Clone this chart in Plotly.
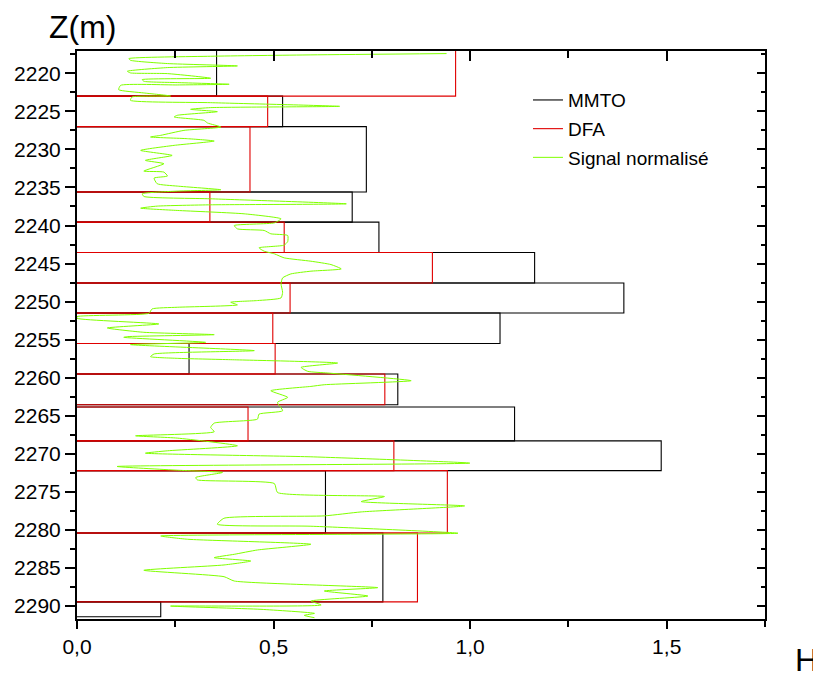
import plotly.graph_objects as go

# Segment boundaries (depth, m)
seg_top = [2217.0, 2223.0, 2227.0, 2235.6, 2239.55, 2243.55, 2247.55, 2251.5,
           2255.5, 2259.5, 2263.85, 2268.3, 2272.2, 2280.4, 2289.45]
seg_bot = [2223.0, 2227.0, 2235.6, 2239.55, 2243.55, 2247.55, 2251.5, 2255.5,
           2259.5, 2263.55, 2268.3, 2272.2, 2280.4, 2289.45, 2291.4]

# Hurst exponent per segment
mmto_h = [0.355, 0.523, 0.736, 0.700, 0.768, 1.164, 1.391, 1.076,
          0.285, 0.816, 1.113, 1.486, 0.632, 0.778, 0.213]
dfa_h = [0.963, 0.485, 0.440, 0.338, 0.527, 0.904, 0.542, 0.498,
         0.504, 0.783, 0.435, 0.806, 0.942, 0.866, None]

# Normalised signal (value, depth)
sig_val = [0.940, 0.595, 0.340, 0.132, 0.136, 0.230, 0.408, 0.230, 0.128, 0.136,
           0.230, 0.340, 0.166, 0.170, 0.255, 0.387, 0.255, 0.111, 0.106, 0.170,
           0.238, 0.140, 0.136, 0.340, 0.668, 0.340, 0.289, 0.357, 0.255, 0.247,
           0.323, 0.332, 0.366, 0.272, 0.213, 0.187, 0.281, 0.349, 0.247,
           0.162, 0.242, 0.174, 0.221, 0.170, 0.221, 0.230, 0.196, 0.204, 0.255,
           0.366, 0.255, 0.166, 0.170, 0.340, 0.685, 0.340, 0.204, 0.162, 0.255,
           0.425, 0.519, 0.502, 0.400, 0.408, 0.476, 0.493, 0.536, 0.536,
           0.527, 0.463, 0.476, 0.502, 0.527, 0.595, 0.646, 0.672, 0.595, 0.544,
           0.523, 0.519, 0.523, 0.519, 0.459, 0.391, 0.408, 0.255, 0.191, 0.183,
           0.0, 0.0, 0.208, 0.077, 0.170, 0.349, 0.128,
           0.119, 0.327, 0.136, 0.451, 0.196, 0.187, 0.255, 0.391, 0.663, 0.570,
           0.587, 0.638, 0.850, 0.629, 0.595, 0.493, 0.536, 0.510, 0.523, 0.463,
           0.459, 0.349, 0.340, 0.349,
           0.149, 0.255, 0.408, 0.230, 0.174, 0.595, 0.999, 0.102, 0.255, 0.370,
           0.302, 0.306, 0.502, 0.510, 0.782, 0.723, 0.986, 0.723, 0.629, 0.374,
           0.357, 0.595,
           0.969, 0.213, 0.281, 0.595, 0.459, 0.400, 0.349, 0.442, 0.374, 0.170,
           0.374, 0.400, 0.765, 0.629, 0.740, 0.595, 0.621, 0.238, 0.468, 0.604,
           0.578, 0.604]
sig_depth = [2217.41, 2217.58, 2217.76, 2218.07, 2218.29, 2218.72, 2219.03, 2219.25, 2219.73, 2219.95,
             2220.04, 2220.65, 2220.83, 2221.05, 2221.22, 2221.44, 2221.53, 2221.58, 2222.15, 2222.58,
             2222.98, 2223.11, 2223.55, 2223.86, 2224.34, 2224.51, 2224.73, 2225.04, 2225.52, 2225.74,
             2226.18, 2226.53, 2227.06, 2227.50, 2228.15, 2228.37, 2228.59, 2228.90, 2229.47,
             2230.13, 2230.79, 2231.44, 2231.88, 2232.85, 2232.98, 2233.50, 2233.77, 2234.51, 2234.82,
             2235.30, 2235.48, 2235.83, 2236.18, 2236.49, 2237.15, 2237.28, 2237.45, 2237.72, 2238.02,
             2238.46, 2239.12, 2239.65, 2240.00, 2240.44, 2240.65, 2241.09, 2241.31, 2242.10,
             2242.58, 2242.93, 2243.37, 2243.72, 2244.25, 2244.69, 2245.13, 2245.70, 2246.00, 2246.36,
             2246.88, 2247.67, 2248.77, 2249.51, 2249.86, 2250.08, 2250.43, 2250.74, 2250.96, 2251.53,
             2251.97, 2252.19, 2252.93, 2253.46, 2254.03, 2254.34, 2254.60,
             2254.69, 2255.35, 2255.65, 2256.44, 2256.88, 2257.23, 2257.45, 2257.63, 2258.07, 2258.64,
             2259.16, 2259.38, 2260.39, 2260.92, 2261.14, 2261.71, 2262.58, 2263.24, 2264.34, 2264.78,
             2265.44, 2265.96, 2266.53, 2267.10,
             2267.63, 2267.93, 2268.94, 2269.60, 2269.91, 2270.39, 2271.22, 2271.66, 2272.15, 2272.45,
             2273.11, 2273.42, 2273.90, 2275.08, 2275.61, 2276.27, 2276.84, 2277.63, 2278.15, 2278.46,
             2279.25, 2279.51,
             2280.43, 2280.79, 2281.22, 2281.88, 2282.63, 2283.20, 2283.64, 2284.08, 2284.60, 2285.30,
             2286.14, 2286.71, 2287.58, 2288.02, 2288.68, 2289.34, 2289.86, 2290.00, 2290.43, 2290.96,
             2291.22, 2291.53]

x_ticks = [0.0, 0.5, 1.0, 1.5]
y_ticks = list(range(2220, 2291, 5))

FONT = "Arial, Liberation Sans, sans-serif"


def boxes(values):
    xs, ys = [], []
    for h, z1, z2 in zip(values, seg_top, seg_bot):
        if h is None:
            continue
        xs += [0, h, h, 0, None]
        ys += [z1, z1, z2, z2, None]
    return xs, ys


fig = go.Figure()
mx, my = boxes(mmto_h)
fig.add_trace(go.Scatter(x=mx, y=my, mode="lines", name="MMTO",
                         line=dict(color="#000000", width=1.1),
                         legendgroup="a"))
dx, dy = boxes(dfa_h)
fig.add_trace(go.Scatter(x=dx, y=dy, mode="lines", name="DFA",
                         line=dict(color="#E00000", width=1.1),
                         legendgroup="b"))
fig.add_trace(go.Scatter(x=sig_val, y=sig_depth, mode="lines",
                         name="Signal normalisé",
                         line=dict(color="rgb(128,255,0)", width=1, shape="spline", smoothing=0.5),
                         legendgroup="c"))
fig.add_trace(go.Scatter(x=[], y=[], xaxis="x2", yaxis="y2", showlegend=False,
                         hoverinfo="skip"))

xr = [0, 1.75]
yr = [2291.7, 2217.07]

fig.update_layout(
    width=813, height=670,
    margin=dict(l=69, r=56, t=43, b=59),
    template="none",
    paper_bgcolor="white", plot_bgcolor="white",
    separators=",.",
    font=dict(family=FONT, size=21, color="black"),
    showlegend=True,
    legend=dict(x=0.6555, y=0.947, xanchor="left", yanchor="top",
                font=dict(size=19), bgcolor="rgba(0,0,0,0)",
                traceorder="grouped", tracegroupgap=1),
    xaxis=dict(range=xr, tickvals=x_ticks, tickformat=".1f",
               ticks="outside", ticklen=8, tickwidth=2, tickcolor="black",
               showline=True, linewidth=2, linecolor="black",
               showgrid=False, zeroline=False,
               minor=dict(dtick=0.25, tick0=0, ticks="outside", ticklen=6,
                          tickwidth=2, tickcolor="black", showgrid=False)),
    yaxis=dict(range=yr, tickvals=y_ticks, tickformat="d",
               ticks="outside", ticklen=10, tickwidth=2, tickcolor="black",
               showline=True, linewidth=2, linecolor="black",
               showgrid=False, zeroline=False,
               minor=dict(dtick=2.5, tick0=2220, ticks="outside", ticklen=5,
                          tickwidth=2, tickcolor="black", showgrid=False)),
    xaxis2=dict(range=xr, overlaying="x", side="top", anchor="y2",
                tickvals=x_ticks, showticklabels=False,
                ticks="inside", ticklen=10, tickwidth=2, tickcolor="black",
                showline=True, linewidth=2, linecolor="black",
                showgrid=False, zeroline=False,
                minor=dict(dtick=0.25, tick0=0, ticks="inside", ticklen=7,
                           tickwidth=2, tickcolor="black", showgrid=False)),
    yaxis2=dict(range=yr, overlaying="y", side="right", anchor="x2",
                tickvals=y_ticks, showticklabels=False,
                ticks="inside", ticklen=8, tickwidth=2, tickcolor="black",
                showline=True, linewidth=2, linecolor="black",
                showgrid=False, zeroline=False,
                minor=dict(dtick=2.5, tick0=2220, ticks="inside", ticklen=4,
                           tickwidth=2, tickcolor="black", showgrid=False)),
    annotations=[
        dict(text="Z(m)", xref="paper", yref="paper", x=0.0087, y=1.042,
             xanchor="center", yanchor="middle", showarrow=False,
             font=dict(size=32, family=FONT)),
        dict(text="H", xref="paper", yref="paper", x=1.061, y=-0.072,
             xanchor="center", yanchor="middle", showarrow=False,
             font=dict(size=32, family=FONT)),
    ],
)

fig.write_html("out.html")
